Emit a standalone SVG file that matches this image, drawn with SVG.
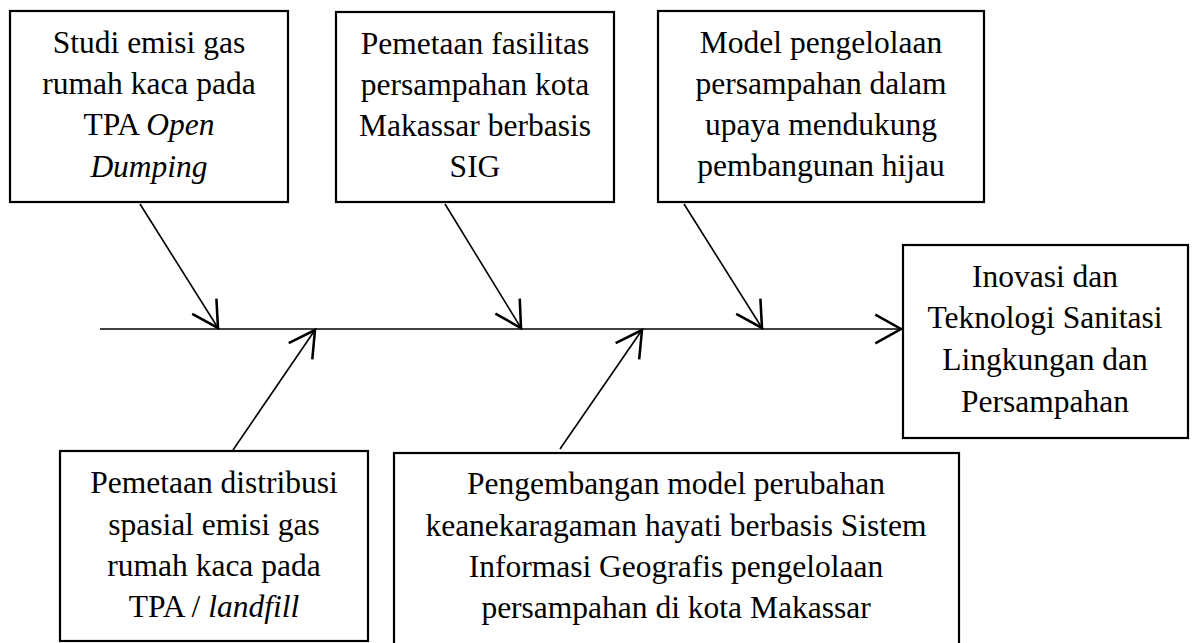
<svg xmlns="http://www.w3.org/2000/svg" width="1193" height="643" viewBox="0 0 1193 643">
<style>
.box{fill:#fff;stroke:#000;stroke-width:2.2}
.t{font-family:"Liberation Serif","Times New Roman",serif;font-size:31.5px;fill:#000;text-anchor:middle}
.c{stroke:#000;stroke-width:1.6;fill:none}
</style>
<defs>
<marker id="ah" markerUnits="userSpaceOnUse" markerWidth="40" markerHeight="40" refX="0" refY="0" viewBox="-22 -14 26 28" orient="auto" overflow="visible">
<path d="M-18,-10 L0,0 L-18,10" fill="none" stroke="#000" stroke-width="1.8"/>
</marker>
</defs>
<rect width="1193" height="643" fill="#fff"/>
<g id="connectors">
<line class="c" x1="100" y1="329" x2="901" y2="329" marker-end="url(#ah)"/>
<line class="c" x1="140" y1="204" x2="218" y2="328" marker-end="url(#ah)"/>
<line class="c" x1="445" y1="204" x2="521" y2="328" marker-end="url(#ah)"/>
<line class="c" x1="684" y1="204" x2="762" y2="328" marker-end="url(#ah)"/>
<line class="c" x1="233" y1="450" x2="315" y2="330" marker-end="url(#ah)"/>
<line class="c" x1="560" y1="449" x2="642" y2="330" marker-end="url(#ah)"/>
</g>
<g id="n1">
<rect class="box" x="10" y="11" width="278" height="191"/>
<text class="t" x="149" y="53">Studi emisi gas</text>
<text class="t" x="149" y="94">rumah kaca pada</text>
<text class="t" x="149" y="135">TPA <tspan font-style="italic">Open</tspan></text>
<text class="t" x="149" y="177" font-style="italic">Dumping</text>
</g>
<g id="n2">
<rect class="box" x="336" y="12" width="278" height="190"/>
<text class="t" x="475" y="54">Pemetaan fasilitas</text>
<text class="t" x="475" y="95">persampahan kota</text>
<text class="t" x="475" y="136">Makassar berbasis</text>
<text class="t" x="475" y="177">SIG</text>
</g>
<g id="n3">
<rect class="box" x="658" y="11" width="326" height="191"/>
<text class="t" x="821" y="53">Model pengelolaan</text>
<text class="t" x="821" y="94">persampahan dalam</text>
<text class="t" x="821" y="135">upaya mendukung</text>
<text class="t" x="821" y="176">pembangunan hijau</text>
</g>
<g id="n4">
<rect class="box" x="903" y="245" width="285" height="193"/>
<text class="t" x="1045" y="287">Inovasi dan</text>
<text class="t" x="1045" y="328">Teknologi Sanitasi</text>
<text class="t" x="1045" y="370">Lingkungan dan</text>
<text class="t" x="1045" y="412">Persampahan</text>
</g>
<g id="n5">
<rect class="box" x="60" y="451" width="308" height="190"/>
<text class="t" x="214" y="493">Pemetaan distribusi</text>
<text class="t" x="214" y="535">spasial emisi gas</text>
<text class="t" x="214" y="576">rumah kaca pada</text>
<text class="t" x="214" y="617">TPA / <tspan font-style="italic">landfill</tspan></text>
</g>
<g id="n6">
<rect class="box" x="394" y="453" width="565" height="195"/>
<text class="t" x="676" y="494">Pengembangan model perubahan</text>
<text class="t" x="676" y="536">keanekaragaman hayati berbasis Sistem</text>
<text class="t" x="676" y="577">Informasi Geografis pengelolaan</text>
<text class="t" x="676" y="618">persampahan di kota Makassar</text>
</g>
</svg>
